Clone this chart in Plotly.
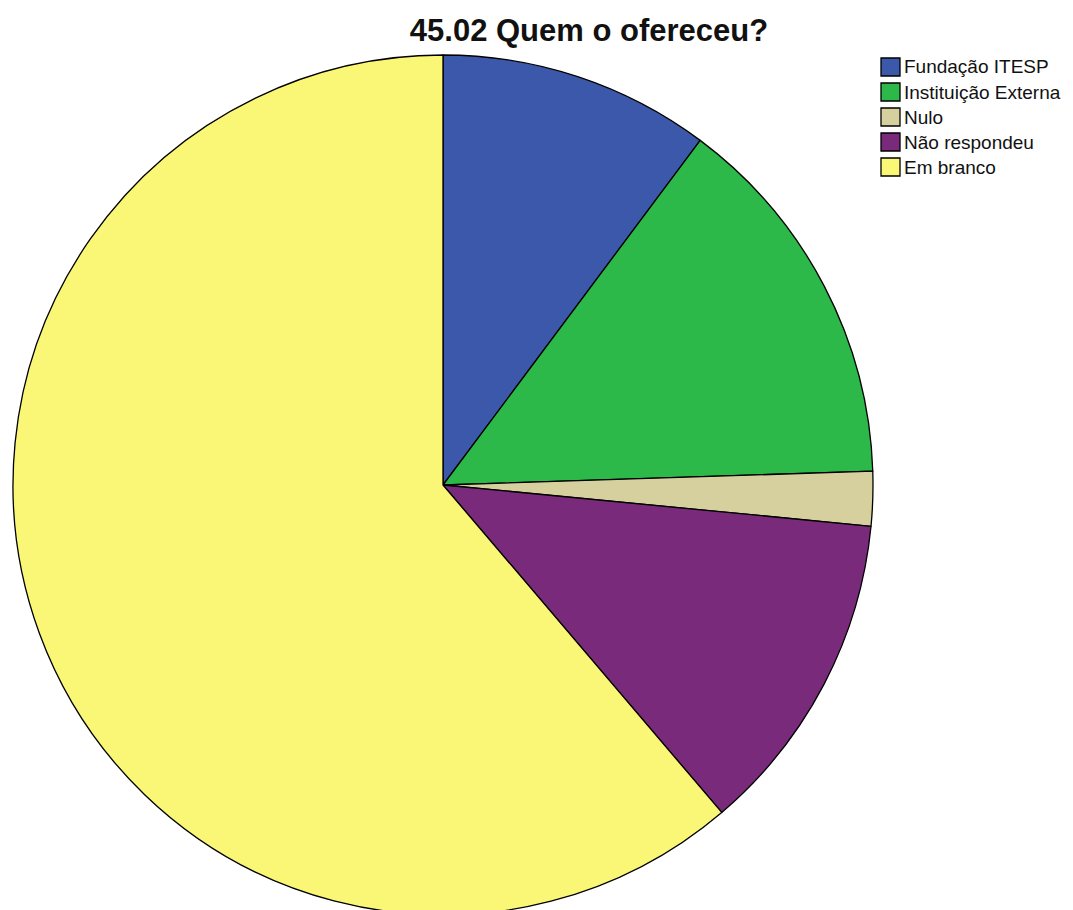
import plotly.graph_objects as go

labels = ["Fundação ITESP", "Instituição Externa", "Nulo", "Não respondeu", "Em branco"]
counts = [5, 7, 1, 6, 30]
colors = ["#3C58AA", "#2DB84A", "#D5D09D", "#7A2A7B", "#FBF776"]
title_text = "45.02 Quem o ofereceu?"

OFF = 8  # page body margin
W, H = 1073 - OFF, 910
# pie geometry in screen pixels
cx, cy, r = 443 - OFF, 485 - OFF, 430

def px(x):
    return (x - OFF) / W

def py(y):
    return 1 - (y - OFF) / H

fig = go.Figure(go.Pie(
    labels=labels, values=counts, sort=False, direction="clockwise", rotation=0,
    marker=dict(colors=colors, line=dict(color="#000000", width=1.3)),
    textinfo="none", showlegend=False,
    domain=dict(x=[(cx - r) / W, (cx + r) / W], y=[1 - (cy + r) / H, 1 - (cy - r) / H]),
))

# custom legend (screen pixel positions)
lx0, lx1 = 881, 900
ly0, step, sq = 67, 25, 18
shapes, annots = [], []
for i, (lab, col) in enumerate(zip(labels, colors)):
    yc = ly0 + i * step
    shapes.append(dict(type="rect", xref="paper", yref="paper",
                       x0=px(lx0), x1=px(lx1), y0=py(yc - sq / 2), y1=py(yc + sq / 2),
                       fillcolor=col, line=dict(color="#000000", width=1.3)))
    annots.append(dict(text=lab, xref="paper", yref="paper", x=px(lx1 + 2), y=py(yc),
                       xanchor="left", yanchor="middle", showarrow=False,
                       font=dict(family="Liberation Sans, Arial", size=19, color="#111111")))

fig.update_layout(
    width=W, height=H, margin=dict(l=0, r=0, t=0, b=0),
    paper_bgcolor="white", plot_bgcolor="white",
    title=dict(text="<b>" + title_text + "</b>", x=px(589), y=py(30), xanchor="center", yanchor="middle",
               font=dict(family="Liberation Sans, Arial", size=31, color="#111111")),
    shapes=shapes, annotations=annots,
)
fig.write_html("out.html")
